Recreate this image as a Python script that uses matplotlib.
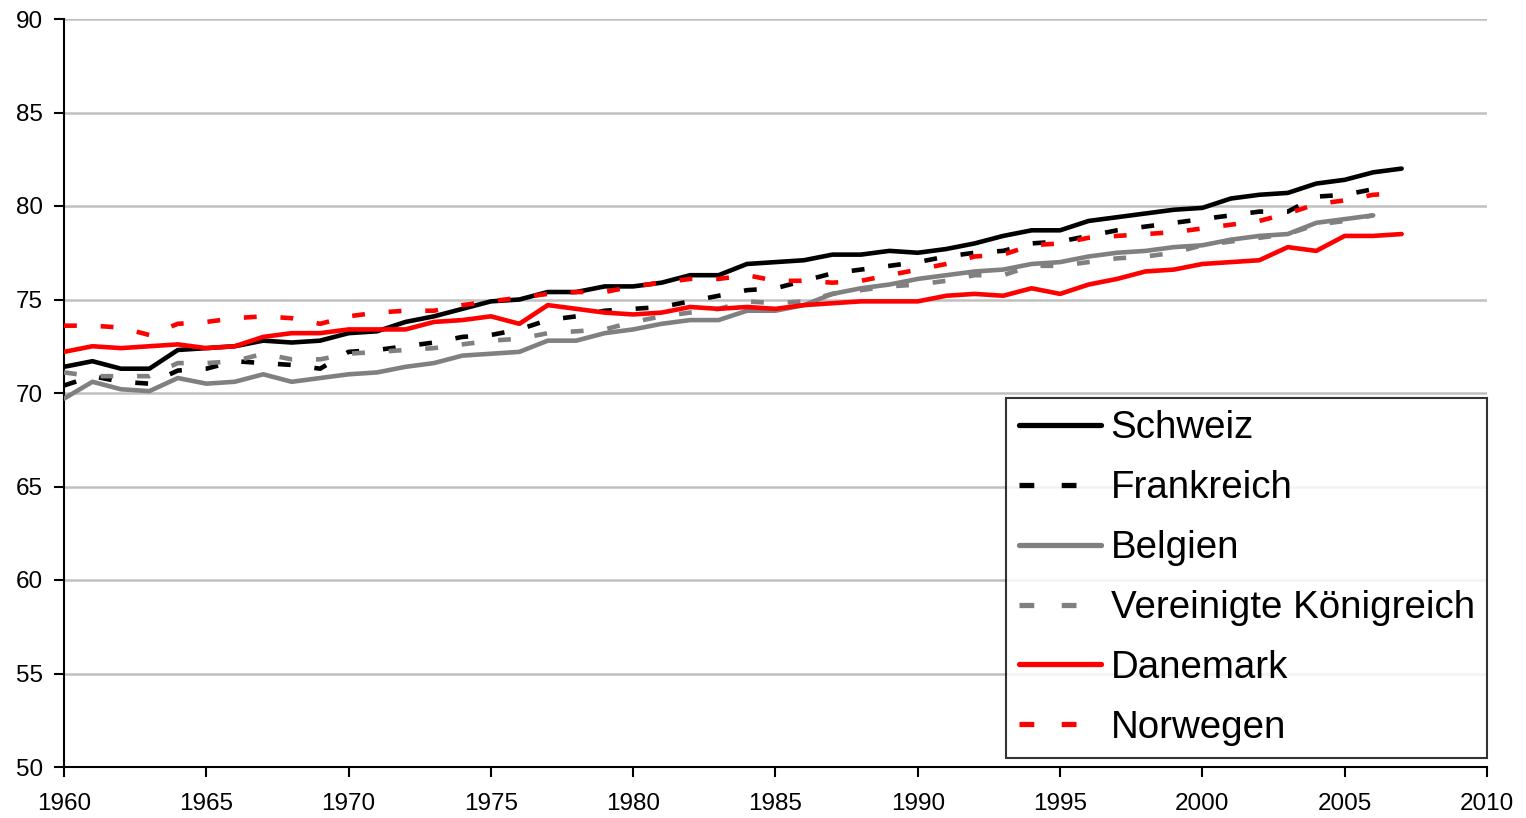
import matplotlib
matplotlib.use("Agg")
import matplotlib.pyplot as plt
import numpy as np

plt.rcParams['font.family'] = ['Liberation Sans', 'DejaVu Sans']
plt.rcParams['xtick.labelsize'] = 17.5
plt.rcParams['ytick.labelsize'] = 17.5

years_full = list(range(1960, 2008))
years_short = list(range(1960, 2007))

schweiz = [71.4, 71.7, 71.3, 71.3, 72.3, 72.4, 72.5, 72.8, 72.7, 72.8,
           73.2, 73.3, 73.8, 74.1, 74.5, 74.9, 75.0, 75.4, 75.4, 75.7,
           75.7, 75.9, 76.3, 76.3, 76.9, 77.0, 77.1, 77.4, 77.4, 77.6,
           77.5, 77.7, 78.0, 78.4, 78.7, 78.7, 79.2, 79.4, 79.6, 79.8,
           79.9, 80.4, 80.6, 80.7, 81.2, 81.4, 81.8, 82.0]
frankreich = [70.4, 70.9, 70.6, 70.5, 71.2, 71.3, 71.7, 71.6, 71.5, 71.3,
              72.2, 72.3, 72.5, 72.7, 73.0, 73.1, 73.4, 73.9, 74.1, 74.4,
              74.5, 74.6, 74.9, 75.2, 75.5, 75.6, 76.0, 76.4, 76.6, 76.8,
              77.0, 77.3, 77.5, 77.6, 78.0, 78.1, 78.4, 78.7, 78.9, 79.1,
              79.3, 79.5, 79.7, 79.7, 80.5, 80.6, 80.9]
belgien = [69.7, 70.6, 70.2, 70.1, 70.8, 70.5, 70.6, 71.0, 70.6, 70.8,
           71.0, 71.1, 71.4, 71.6, 72.0, 72.1, 72.2, 72.8, 72.8, 73.2,
           73.4, 73.7, 73.9, 73.9, 74.4, 74.4, 74.7, 75.3, 75.6, 75.8,
           76.1, 76.3, 76.5, 76.6, 76.9, 77.0, 77.3, 77.5, 77.6, 77.8,
           77.9, 78.2, 78.4, 78.5, 79.1, 79.3, 79.5]
uk = [71.1, 70.9, 70.9, 70.9, 71.6, 71.6, 71.7, 72.1, 71.8, 71.8,
      72.1, 72.2, 72.3, 72.4, 72.6, 72.8, 72.9, 73.2, 73.3, 73.4,
      73.8, 74.1, 74.3, 74.5, 74.9, 74.8, 74.9, 75.3, 75.5, 75.7,
      75.8, 76.0, 76.3, 76.3, 76.8, 76.8, 77.0, 77.2, 77.3, 77.5,
      77.9, 78.1, 78.3, 78.5, 79.0, 79.2, 79.5]
danemark = [72.2, 72.5, 72.4, 72.5, 72.6, 72.4, 72.5, 73.0, 73.2, 73.2,
            73.4, 73.4, 73.4, 73.8, 73.9, 74.1, 73.7, 74.7, 74.5, 74.3,
            74.2, 74.3, 74.6, 74.5, 74.6, 74.5, 74.7, 74.8, 74.9, 74.9,
            74.9, 75.2, 75.3, 75.2, 75.6, 75.3, 75.8, 76.1, 76.5, 76.6,
            76.9, 77.0, 77.1, 77.8, 77.6, 78.4, 78.4, 78.5]
norwegen = [73.6, 73.6, 73.5, 73.1, 73.7, 73.8, 74.0, 74.1, 74.0, 73.7,
            74.1, 74.3, 74.4, 74.4, 74.7, 74.9, 75.1, 75.3, 75.4, 75.4,
            75.7, 75.9, 76.1, 76.1, 76.3, 76.0, 76.0, 75.9, 76.0, 76.3,
            76.6, 76.9, 77.3, 77.4, 77.9, 78.0, 78.3, 78.4, 78.5, 78.6,
            78.8, 79.0, 79.2, 79.6, 80.1, 80.3, 80.6, 80.7]

labels = ["Schweiz", "Frankreich", "Belgien", "Vereinigte Königreich",
          "Danemark", "Norwegen"]
x_ticks = [1960, 1965, 1970, 1975, 1980, 1985, 1990, 1995, 2000, 2005, 2010]
y_ticks = [50, 55, 60, 65, 70, 75, 80, 85, 90]

fig = plt.figure(figsize=(15.26, 8.18), dpi=100)
ax = fig.add_axes([64/1526, 1-767/818, (1487-64)/1526, (767-19)/818])

lw = 3.3
dash = (2.8, 5.2)
series = [
    (years_full, schweiz, 'black', '-'),
    (years_short, frankreich, 'black', '--'),
    (years_short, belgien, '#808080', '-'),
    (years_short, uk, '#808080', '--'),
    (years_full, danemark, '#ff0000', '-'),
    (years_full, norwegen, '#ff0000', '--'),
]
handles = [None]*6
for i in range(6):
    xs, ys, c, ls = series[i]
    if ls == '--':
        ln, = ax.plot(xs, ys, color=c, lw=lw, dashes=dash, dash_capstyle='butt',
                      label=labels[i], zorder=3+i*0.1)
    else:
        ln, = ax.plot(xs, ys, color=c, lw=lw, solid_capstyle='round',
                      solid_joinstyle='round', label=labels[i], zorder=3+i*0.1)
    handles[i] = ln

ax.set_xlim(1960, 2010)
ax.set_ylim(50, 90)
ax.set_xticks(x_ticks)
ax.set_yticks(y_ticks)
ax.set_xticklabels([str(v) for v in x_ticks], fontsize=17.5)
ax.set_yticklabels([str(v) for v in y_ticks], fontsize=17.5)
ax.tick_params(axis='both', direction='out', width=1.5, color='black')
ax.tick_params(axis='x', length=7, pad=12)
ax.tick_params(axis='y', length=7, pad=8)
ax.yaxis.grid(True, color='#c0c0c0', lw=1.8)
ax.set_axisbelow(True)
for s in ['top', 'right']:
    ax.spines[s].set_visible(False)
for s in ['left', 'bottom']:
    ax.spines[s].set_linewidth(1.5)
    ax.spines[s].set_color('black')

leg = ax.legend(handles=handles, labels=labels, loc='lower right',
                bbox_to_anchor=(1.0, 9/748), fontsize=27.7,
                frameon=True, fancybox=False, edgecolor='black',
                handlelength=2.15, handletextpad=0.24, labelspacing=0.62,
                borderpad=0.32, borderaxespad=0.0)
leg.get_frame().set_linewidth(1.5)
for h in leg.legend_handles:
    h.set_linewidth(3.8)

fig.savefig("out.png", dpi=100)
